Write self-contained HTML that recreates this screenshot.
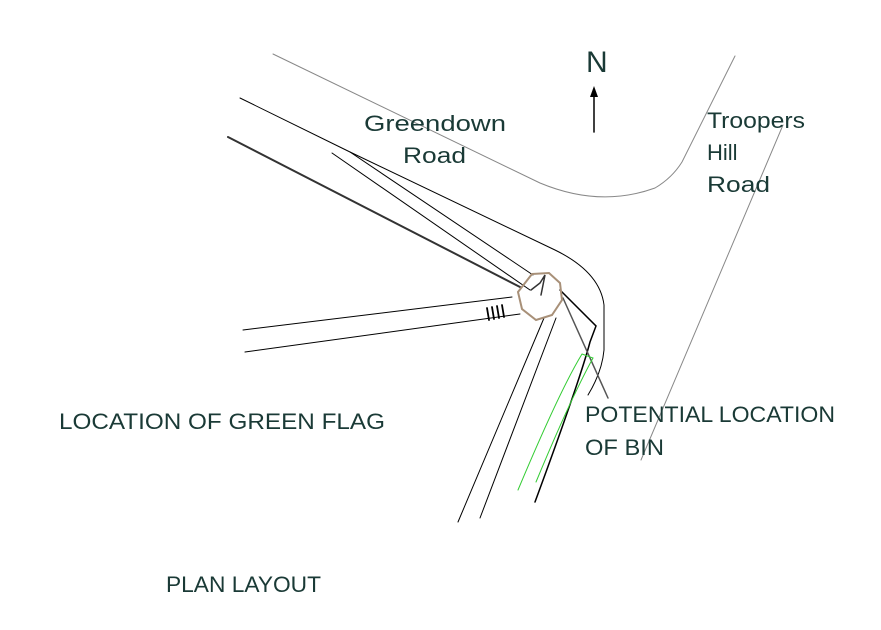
<!DOCTYPE html>
<html><head><style>body{margin:0;background:#fff}svg{display:block}</style></head><body>
<svg width="881" height="630" viewBox="0 0 881 630" xmlns="http://www.w3.org/2000/svg">
<g fill="none" stroke-linecap="round">
<path d="M273,54 L540,183 Q600,208 655,188 Q672,178 682,162 L735,56" stroke="#888" stroke-width="1"/>
<path d="M783,125 L641,460" stroke="#888" stroke-width="1"/>
<path d="M240,98 L350,152 L555,250 Q600,272 604,305 L604,350 Q602,372 588,395" stroke="#000" stroke-width="1"/>
<path d="M350,152 L533,275" stroke="#000" stroke-width="1"/>
<path d="M332,153 L530,290" stroke="#000" stroke-width="1"/>
<path d="M228,137 L520,287" stroke="#333" stroke-width="2"/>
<path d="M243,330 L512,297" stroke="#000" stroke-width="1"/>
<path d="M245,352 L520,314" stroke="#000" stroke-width="1"/>
<path d="M487,308 L489,320 M492,307 L494,319 M497,306 L499,318 M502,305 L504,317" stroke="#000" stroke-width="1.8"/>
<path d="M544,318 L458,522" stroke="#000" stroke-width="1"/>
<path d="M556,318 L480,518" stroke="#000" stroke-width="1"/>
<path d="M560,290 L596,326 L590,342 Q580,380 535,502" stroke="#000" stroke-width="1.5"/>
<path d="M563,298 L608,398" stroke="#555" stroke-width="1.5"/>
<path d="M531,290 L540,283 L545,275 L541,295" stroke="#333" stroke-width="1.5"/>
<polygon points="532,274 549,273 560,283 562,300 552,315 536,320 522,309 518,292" stroke="#a89078" stroke-width="2"/>
<path d="M582,354 L593,358 Q570,400 536,482 M582,354 Q560,390 518,490" stroke="#3c3" stroke-width="1"/>
<path d="M594,132 L594,92" stroke="#000" stroke-width="1.5"/>
</g>
<polygon points="594,86 590,97 598,97" fill="#000"/>
<g font-family="Liberation Sans, sans-serif" fill="#1a3a36">
<text x="586" y="72" font-size="30">N</text>
<text x="364" y="131" font-size="22" textLength="142" lengthAdjust="spacingAndGlyphs">Greendown</text>
<text x="403" y="163" font-size="22" textLength="63" lengthAdjust="spacingAndGlyphs">Road</text>
<text x="707" y="128" font-size="22" textLength="98" lengthAdjust="spacingAndGlyphs">Troopers</text>
<text x="707" y="160" font-size="22">Hill</text>
<text x="707" y="192" font-size="22" textLength="63" lengthAdjust="spacingAndGlyphs">Road</text>
<text x="585" y="422" font-size="22" textLength="250" lengthAdjust="spacingAndGlyphs">POTENTIAL LOCATION</text>
<text x="585" y="455" font-size="22" textLength="79" lengthAdjust="spacingAndGlyphs">OF BIN</text>
<text x="59" y="429" font-size="22" textLength="326" lengthAdjust="spacingAndGlyphs">LOCATION OF GREEN FLAG</text>
<text x="166" y="592" font-size="22" textLength="155" lengthAdjust="spacingAndGlyphs">PLAN LAYOUT</text>
</g>
</svg>
</body></html>
